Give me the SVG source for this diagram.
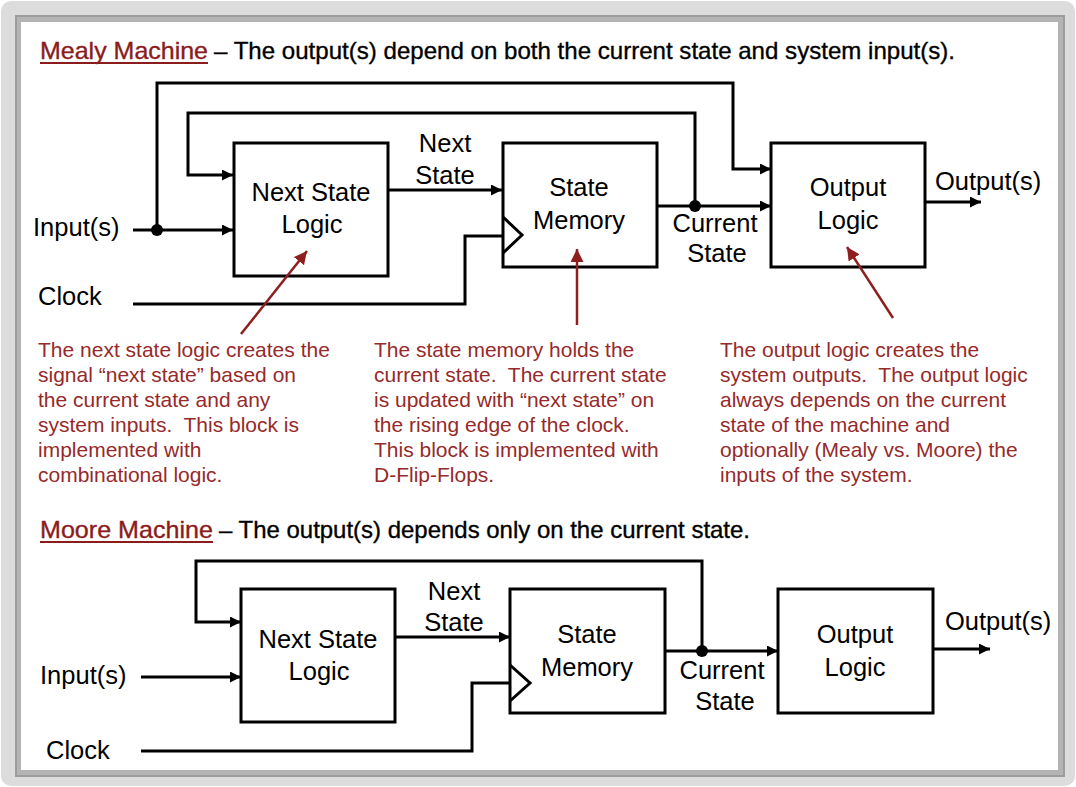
<svg xmlns="http://www.w3.org/2000/svg" width="1076" height="787" viewBox="0 0 1076 787">
<defs>
<style>
.box{fill:#fff;stroke:#000;stroke-width:3}
.wire{fill:none;stroke:#000;stroke-width:3}
.ptr{fill:none;stroke:#8e1f1f;stroke-width:2.5}
.dot{fill:#000}
text{font-family:"Liberation Sans",Arial,sans-serif}
.lbl{font-size:25.5px;fill:#000}
.mid{text-anchor:middle}
.note{font-size:21px;fill:#962a2a;white-space:pre}
.ttl{font-size:24px;fill:#000;stroke:#000;stroke-width:0.35}
.ttr{font-size:24px;fill:#8b1c1c;stroke:#8b1c1c;stroke-width:0.35}
</style>
<marker id="ah" viewBox="0 0 10 10" refX="10" refY="5" markerWidth="11" markerHeight="11" markerUnits="userSpaceOnUse" orient="auto"><path d="M0,0 L10,5 L0,10 z" fill="#000"/></marker>
<marker id="rh" viewBox="0 0 10 10" refX="10" refY="5" markerWidth="13" markerHeight="13" markerUnits="userSpaceOnUse" orient="auto"><path d="M0,0 L10,5 L0,10 z" fill="#8e1f1f"/></marker>
</defs>

<g id="frame">
<rect x="1" y="1" width="1074" height="785" rx="10" fill="#dcdcdc"/>
<rect x="15" y="15" width="1050" height="762" fill="#9c9c9c"/>
<rect x="17" y="17" width="1046" height="758" fill="#b4b4b4"/>
<rect x="21" y="22" width="1037" height="748" fill="#fff"/>
</g>

<g id="mealy-title">
<text class="ttr" x="40" y="59" textLength="168" lengthAdjust="spacingAndGlyphs">Mealy Machine</text>
<line x1="40" y1="63" x2="208" y2="63" stroke="#8b1c1c" stroke-width="2"/>
<text class="ttl" x="214" y="59" textLength="741" lengthAdjust="spacingAndGlyphs">– The output(s) depend on both the current state and system input(s).</text>
</g>

<g id="mealy-connectors">
<path class="wire" d="M133,230 H233" marker-end="url(#ah)"/>
<path class="wire" d="M157,230 V83 H733 V169 H771" marker-end="url(#ah)"/>
<path class="wire" d="M695,206 V113 H188 V175 H233" marker-end="url(#ah)"/>
<path class="wire" d="M388,190 H502" marker-end="url(#ah)"/>
<path class="wire" d="M657,206 H771" marker-end="url(#ah)"/>
<path class="wire" d="M133,304 H465 V236 H503"/>
<path class="wire" d="M925,202 H981" marker-end="url(#ah)"/>
<circle class="dot" cx="157" cy="230" r="6"/>
<circle class="dot" cx="695" cy="206" r="6"/>
</g>

<g id="mealy-next-state-logic">
<rect class="box" x="234" y="143" width="154" height="133"/>
<text class="lbl mid" x="311" y="201">Next State</text>
<text class="lbl mid" x="312" y="233">Logic</text>
</g>
<g id="mealy-state-memory">
<rect class="box" x="503" y="143" width="154" height="124"/>
<polyline class="wire" points="503,217 522,235 503,253"/>
<text class="lbl mid" x="579" y="196">State</text>
<text class="lbl mid" x="579" y="229">Memory</text>
</g>
<g id="mealy-output-logic">
<rect class="box" x="771" y="143" width="154" height="124"/>
<text class="lbl mid" x="848" y="196">Output</text>
<text class="lbl mid" x="848" y="229">Logic</text>
</g>
<g id="mealy-labels">
<text class="lbl" x="33" y="236">Input(s)</text>
<text class="lbl" x="38" y="305">Clock</text>
<text class="lbl mid" x="445" y="152">Next</text>
<text class="lbl mid" x="445" y="184">State</text>
<text class="lbl mid" x="715" y="232">Current</text>
<text class="lbl mid" x="717" y="262">State</text>
<text class="lbl" x="935" y="190">Output(s)</text>
</g>

<g id="pointers">
<path class="ptr" d="M241,334 L307,251" marker-end="url(#rh)"/>
<path class="ptr" d="M577,325 L577,249" marker-end="url(#rh)"/>
<path class="ptr" d="M893,318 L847,247" marker-end="url(#rh)"/>
</g>

<g id="notes">
<text class="note" x="38" y="357">The next state logic creates the</text>
<text class="note" x="38" y="382">signal “next state” based on</text>
<text class="note" x="38" y="407">the current state and any</text>
<text class="note" x="38" y="432">system inputs.  This block is</text>
<text class="note" x="38" y="457">implemented with</text>
<text class="note" x="38" y="482">combinational logic.</text>
<text class="note" x="374" y="357">The state memory holds the</text>
<text class="note" x="374" y="382">current state.  The current state</text>
<text class="note" x="374" y="407">is updated with “next state” on</text>
<text class="note" x="374" y="432">the rising edge of the clock.</text>
<text class="note" x="374" y="457">This block is implemented with</text>
<text class="note" x="374" y="482">D-Flip-Flops.</text>
<text class="note" x="720" y="357">The output logic creates the</text>
<text class="note" x="720" y="382">system outputs.  The output logic</text>
<text class="note" x="720" y="407">always depends on the current</text>
<text class="note" x="720" y="432">state of the machine and</text>
<text class="note" x="720" y="457">optionally (Mealy vs. Moore) the</text>
<text class="note" x="720" y="482">inputs of the system.</text>
</g>

<g id="moore-title">
<text class="ttr" x="40" y="538" textLength="173" lengthAdjust="spacingAndGlyphs">Moore Machine</text>
<line x1="40" y1="542" x2="213" y2="542" stroke="#8b1c1c" stroke-width="2"/>
<text class="ttl" x="219" y="538" textLength="531" lengthAdjust="spacingAndGlyphs">– The output(s) depends only on the current state.</text>
</g>

<g id="moore-connectors">
<path class="wire" d="M141,677 H241" marker-end="url(#ah)"/>
<path class="wire" d="M702,651 V561 H196 V622 H241" marker-end="url(#ah)"/>
<path class="wire" d="M395,637 H510" marker-end="url(#ah)"/>
<path class="wire" d="M665,651 H778" marker-end="url(#ah)"/>
<path class="wire" d="M141,751 H472 V683 H511"/>
<path class="wire" d="M933,649 H990" marker-end="url(#ah)"/>
<circle class="dot" cx="702" cy="651" r="6"/>
</g>

<g id="moore-next-state-logic">
<rect class="box" x="241" y="589" width="154" height="133"/>
<text class="lbl mid" x="318" y="648">Next State</text>
<text class="lbl mid" x="319" y="680">Logic</text>
</g>
<g id="moore-state-memory">
<rect class="box" x="510" y="589" width="155" height="124"/>
<polyline class="wire" points="510,665 530,683 510,701"/>
<text class="lbl mid" x="587" y="643">State</text>
<text class="lbl mid" x="587" y="676">Memory</text>
</g>
<g id="moore-output-logic">
<rect class="box" x="778" y="589" width="155" height="124"/>
<text class="lbl mid" x="855" y="643">Output</text>
<text class="lbl mid" x="855" y="676">Logic</text>
</g>
<g id="moore-labels">
<text class="lbl" x="40" y="684">Input(s)</text>
<text class="lbl" x="46" y="759">Clock</text>
<text class="lbl mid" x="454" y="600">Next</text>
<text class="lbl mid" x="454" y="631">State</text>
<text class="lbl mid" x="722" y="679">Current</text>
<text class="lbl mid" x="725" y="710">State</text>
<text class="lbl" x="945" y="630">Output(s)</text>
</g>
</svg>
